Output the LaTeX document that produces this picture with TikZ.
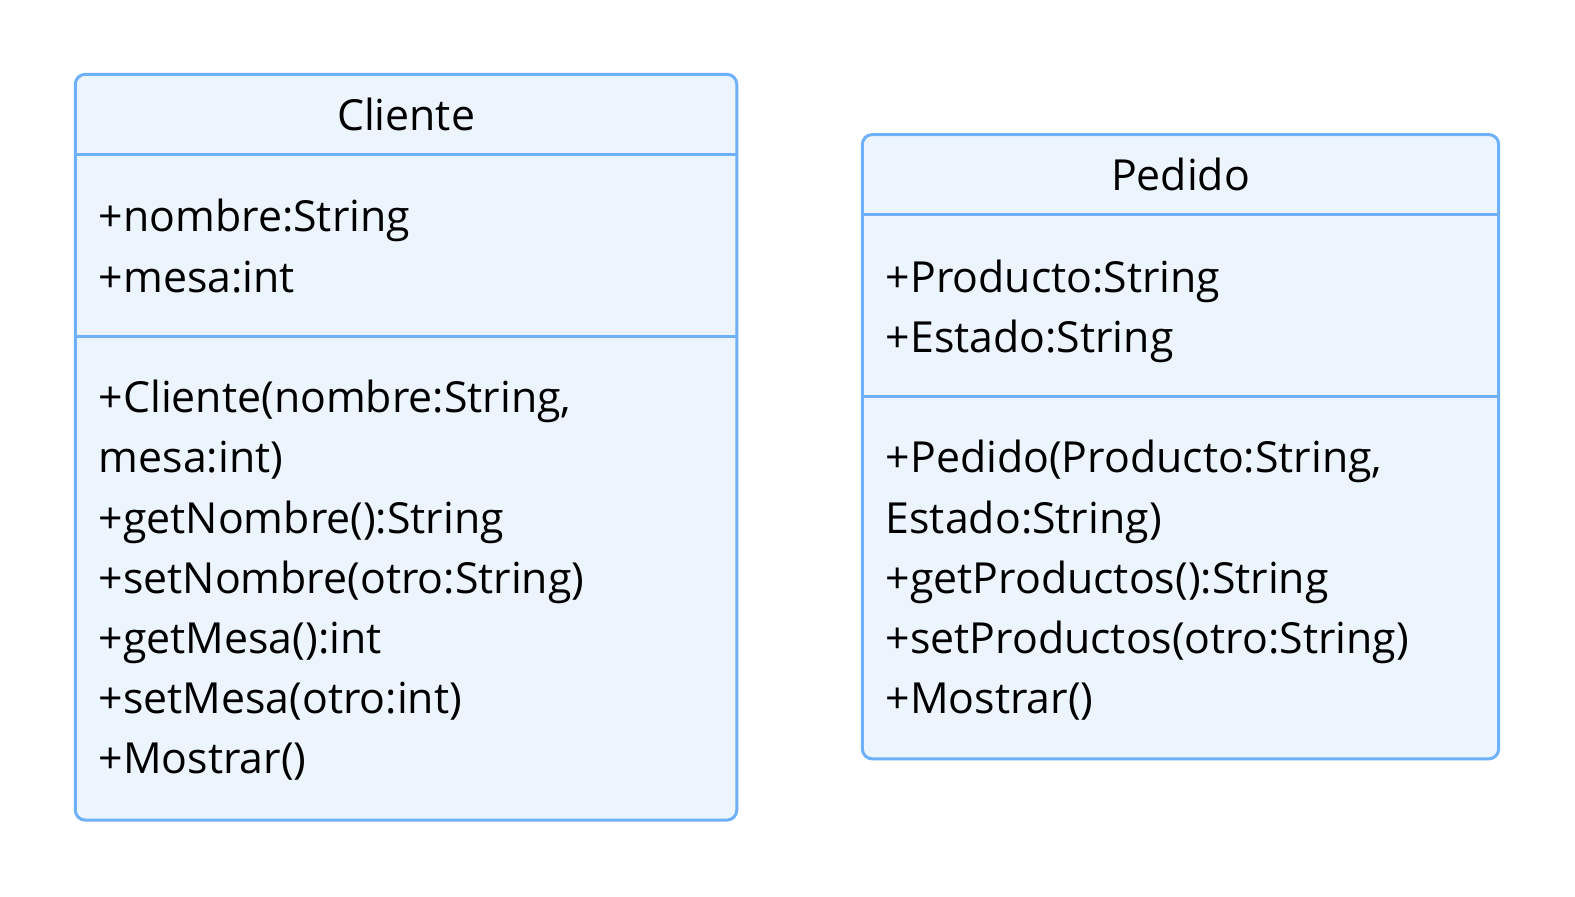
\documentclass[tikz,border=0pt]{standalone}
\usepackage{fontspec}
\setmainfont{Open Sans}
\begin{document}
\begin{tikzpicture}[x=0.5bp,y=-0.5bp,
  box/.style={draw=boxline,fill=boxfill,line width=1.5bp,rounded corners=5bp},
  sep/.style={draw=boxline,line width=1.5bp},
  txt/.style={anchor=base west,inner sep=0pt,font=\fontsize{21.4}{25}\selectfont,text=black},
  ttl/.style={anchor=base,inner sep=0pt,font=\fontsize{21.4}{25}\selectfont,text=black}]
\definecolor{boxline}{RGB}{110,176,250}
\definecolor{boxfill}{RGB}{236,244,254}
\useasboundingbox (0,0) rectangle (1569,892.6);
% Cliente
\draw[box] (75,74) rectangle (734,817);
\draw[sep] (75,154) -- (734,154);
\draw[sep] (75,335) -- (734,335);
\node[ttl] (ct) at (404.5,130) {Cliente};
\node[txt] (ca1) at (98,231) {+nombre:String};
\node[txt] (ca2) at (98,291) {+mesa:int};
\node[txt] (cm1) at (98,411) {+Cliente(nombre:String,};
\node[txt] (cm2) at (98,471) {mesa:int)};
\node[txt] (cm3) at (98,531) {+getNombre():String};
\node[txt] (cm4) at (98,591) {+setNombre(otro:String)};
\node[txt] (cm5) at (98,651) {+getMesa():int};
\node[txt] (cm6) at (98,711) {+setMesa(otro:int)};
\node[txt] (cm7) at (98,771) {+Mostrar()};
% Pedido
\draw[box] (859,134) rectangle (1493,756);
\draw[sep] (859,214) -- (1493,214);
\draw[sep] (859,395) -- (1493,395);
\node[ttl] (pt) at (1176,190) {Pedido};
\node[txt] (pa1) at (882,291) {+Producto:String};
\node[txt] (pa2) at (882,351) {+Estado:String};
\node[txt] (pm1) at (882,471) {+Pedido(Producto:String,};
\node[txt] (pm2) at (882,531) {Estado:String)};
\node[txt] (pm3) at (882,591) {+getProductos():String};
\node[txt] (pm4) at (882,651) {+setProductos(otro:String)};
\node[txt] (pm5) at (882,711) {+Mostrar()};
\end{tikzpicture}
\end{document}
